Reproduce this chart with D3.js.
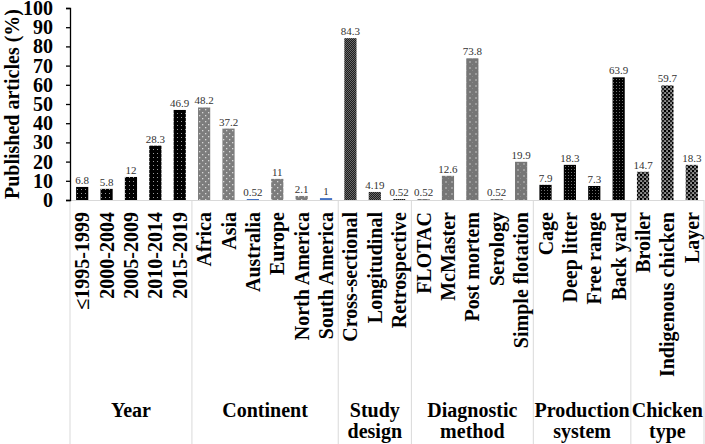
<!DOCTYPE html>
<html><head><meta charset="utf-8">
<script src="https://cdn.jsdelivr.net/npm/d3@7"></script>
<style>body{margin:0;background:#fff}svg{display:block}</style>
</head><body>
<svg id="c" width="705" height="444"></svg>
<script>
// ---- data ----
const groups = ["Year", "Continent", "Study design", "Diagnostic method", "Production system", "Chicken type"];
const yearCats = ["\u22641995-1999", "2000-2004", "2005-2009", "2010-2014", "2015-2019"];
const yearVals = [6.8, 5.8, 12, 28.3, 46.9];
const continentCats = ["Africa", "Asia", "Australia", "Europe", "North America", "South America"];
const continentVals = [48.2, 37.2, 0.52, 11, 2.1, 1];
const studyCats = ["Cross-sectional", "Longitudinal", "Retrospective"];
const studyVals = [84.3, 4.19, 0.52];
const diagCats = ["FLOTAC", "McMaster", "Post mortem", "Serology", "Simple flotation"];
const diagVals = [0.52, 12.6, 73.8, 0.52, 19.9];
const prodCats = ["Cage", "Deep litter", "Free range", "Back yard"];
const prodVals = [7.9, 18.3, 7.3, 63.9];
const chickenCats = ["Broiler", "Indigenous chicken", "Layer"];
const chickenVals = [14.7, 59.7, 18.3];
const yTicks = [0, 10, 20, 30, 40, 50, 60, 70, 80, 90, 100];

const groupCats = [yearCats, continentCats, studyCats, diagCats, prodCats, chickenCats];
const groupVals = [yearVals, continentVals, studyVals, diagVals, prodVals, chickenVals];

// ---- layout / style ----
const svg = d3.select("#c");
const W = 705, H = 444;
const x0 = 70, x1 = 704, yTop = 8, yBase = 200;
const FONT = "'Liberation Serif','Times New Roman',serif";

const rows = [];
groups.forEach((g, gi) => groupCats[gi].forEach((c, ci) => rows.push({group: g, gi, cat: c, val: groupVals[gi][ci], key: g + "|" + c})));

const x = d3.scaleBand().domain(rows.map(r => r.key)).range([x0, x1]).paddingInner(0.5).paddingOuter(0.25);
const y = d3.scaleLinear().domain([0, 100]).range([yBase, yTop]);

// patterns
const defs = svg.append("defs");
function pat(id, size, bg, cells) {
  const p = defs.append("pattern").attr("id", id).attr("patternUnits", "userSpaceOnUse")
    .attr("width", size).attr("height", size);
  p.append("rect").attr("width", size).attr("height", size).attr("fill", bg);
  cells.forEach(c => p.append("rect").attr("x", c[0]).attr("y", c[1]).attr("width", c[2]).attr("height", c[3]).attr("fill", c[4]));
}
pat("pYear", 4, "#000", [[1, 1, 1, 1, "#9a9a9a"]]);
pat("pCont", 6, "#7d7d7d", [[1, 1, 1.3, 1.3, "#d6d6d6"], [4, 4, 1.3, 1.3, "#d6d6d6"]]);
pat("pStudy", 2, "#1e1e1e", [[0, 0, 1, 1, "#6a6a6a"], [1, 1, 1, 1, "#6a6a6a"]]);
pat("pDiag", 6, "#767676", [[1, 1, 2, 2, "#9c9c9c"], [4, 4, 1, 1, "#8c8c8c"]]);
pat("pProd", 3, "#000", [[1, 1, 1, 1, "#6e6e6e"]]);
pat("pChick", 4, "#000", [[0.3, 0.3, 1.5, 1.5, "#e8e8e8"], [2.3, 2.3, 1.5, 1.5, "#e8e8e8"], [2.3, 0.3, 1.5, 1.5, "#3a3a3a"]]);
const groupFill = ["url(#pYear)", "url(#pCont)", "url(#pStudy)", "url(#pDiag)", "url(#pProd)", "url(#pChick)"];
const blueCats = ["Australia", "South America"];

// group boundaries from the band scale
const step = x.step();
const startX = x.range()[0] + x.paddingOuter() * step - x.paddingInner() * step / 2;
const bnd = [x0];
let acc = 0;
groupCats.forEach(cs => { acc += cs.length; bnd.push(startX + acc * step); });

svg.append("g").selectAll("line").data(bnd).join("line")
  .attr("x1", d => d).attr("x2", d => d).attr("y1", yBase).attr("y2", H)
  .attr("stroke", "#d9d9d9").attr("stroke-width", 1);
svg.append("line").attr("x1", x0).attr("x2", x1).attr("y1", yBase + 0.5).attr("y2", yBase + 0.5)
  .attr("stroke", "#d9d9d9");

// bars
svg.append("g").selectAll("rect").data(rows).join("rect")
  .attr("x", d => x(d.key)).attr("width", x.bandwidth())
  .attr("y", d => y(d.val)).attr("height", d => yBase - y(d.val))
  .attr("fill", d => blueCats.includes(d.cat) ? "#4472c4" : groupFill[d.gi]);

// value labels
svg.append("g").selectAll("text").data(rows).join("text")
  .attr("x", d => x(d.key) + x.bandwidth() / 2).attr("y", d => y(d.val) - 3)
  .attr("text-anchor", "middle").attr("font-family", FONT).attr("font-size", 11)
  .attr("fill", "#333").text(d => d.val);

// y axis
const ya = svg.append("g").attr("transform", `translate(${x0},0)`)
  .call(d3.axisLeft(y).tickValues(yTicks).tickSize(4).tickPadding(13));
ya.select(".domain").attr("stroke", "#000").attr("stroke-width", 1.3);
ya.selectAll(".tick line").attr("stroke", "#000").attr("stroke-width", 1.3);
ya.selectAll(".tick text").attr("font-family", FONT).attr("font-size", 20).attr("font-weight", "bold").attr("fill", "#000");

svg.append("text").attr("transform", `translate(19,104) rotate(-90)`)
  .attr("text-anchor", "middle").attr("font-family", FONT).attr("font-size", 20).attr("font-weight", "bold")
  .text("Published articles (%)");

// category labels
svg.append("g").selectAll("text").data(rows).join("text")
  .attr("transform", d => `translate(${x(d.key) + x.bandwidth() / 2},${yBase + 12}) rotate(-90)`)
  .attr("dy", "0.35em").attr("text-anchor", "end")
  .attr("font-family", FONT).attr("font-size", 20).attr("font-weight", "bold").attr("fill", "#000")
  .text(d => d.cat);

// group labels
groups.forEach((g, gi) => {
  const cx = (bnd[gi] + bnd[gi + 1]) / 2;
  const words = g.split(" ");
  const t = svg.append("text").attr("x", cx).attr("y", 417).attr("text-anchor", "middle")
    .attr("font-family", FONT).attr("font-size", 20).attr("font-weight", "bold");
  words.forEach((w, i) => t.append("tspan").attr("x", cx).attr("dy", i === 0 ? 0 : 21).text(w));
});
</script>
</body></html>
